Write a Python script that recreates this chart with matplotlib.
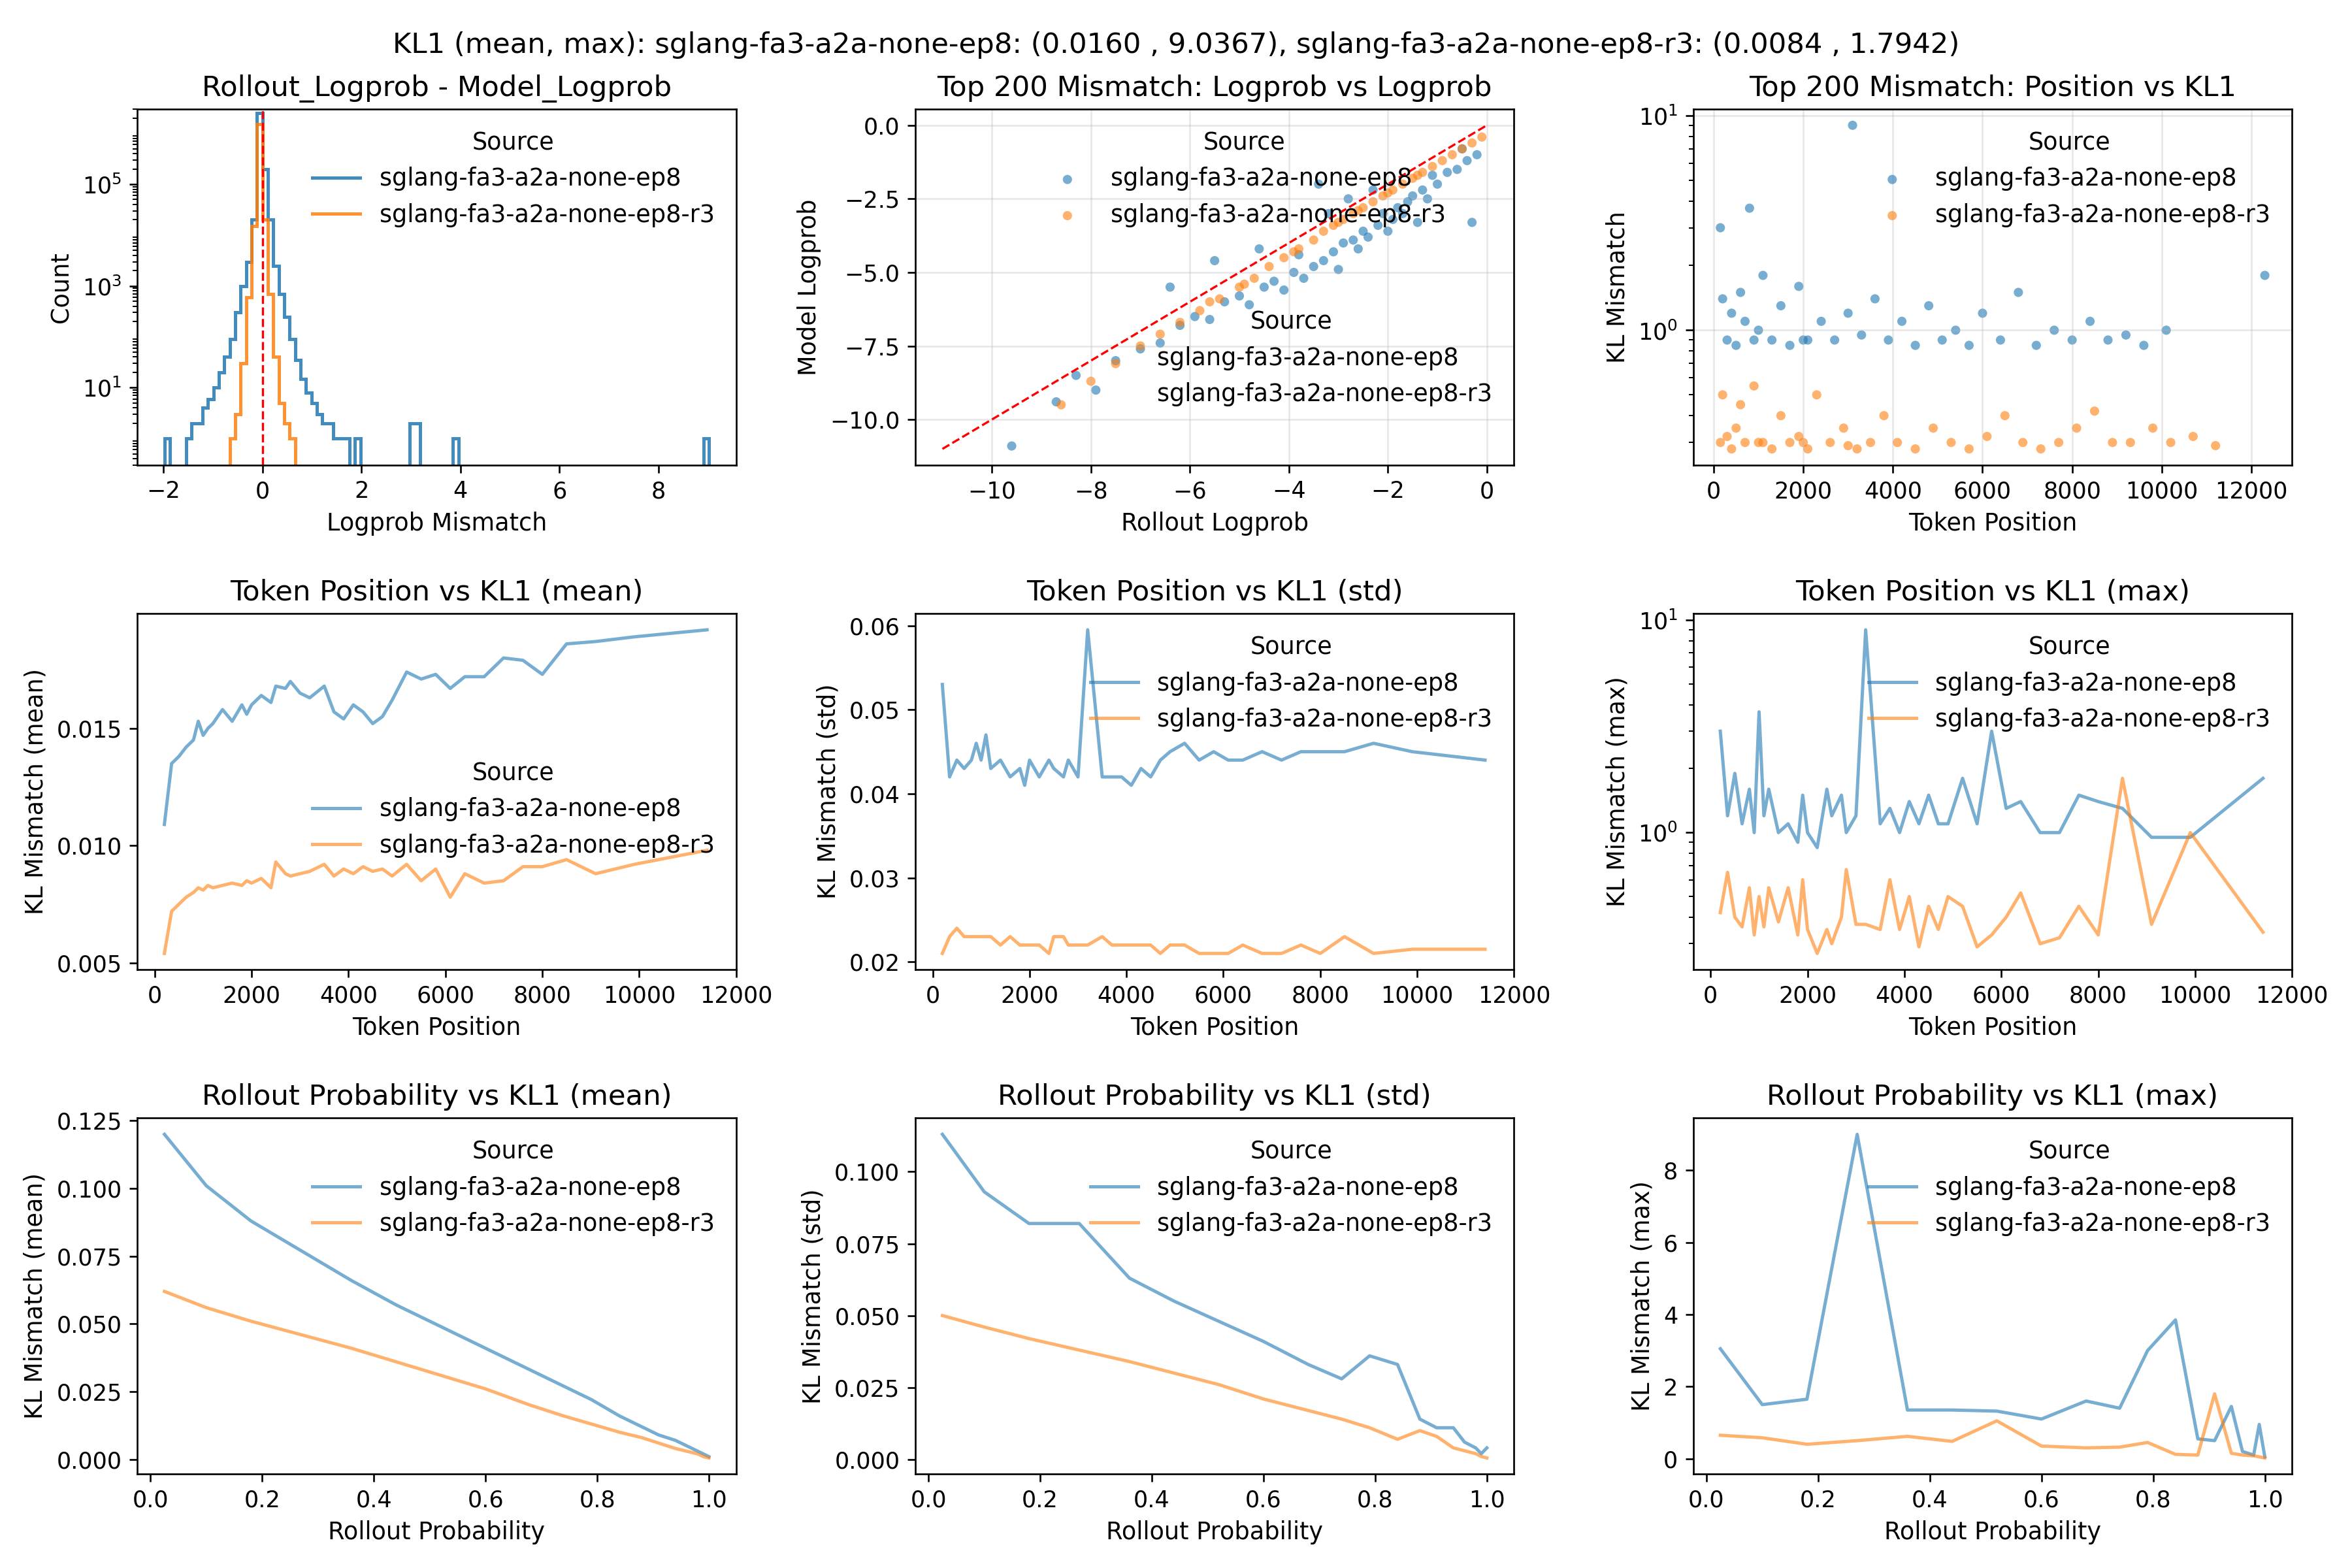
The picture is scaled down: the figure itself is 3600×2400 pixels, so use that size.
import numpy as np
import matplotlib.pyplot as plt
from matplotlib.lines import Line2D
from matplotlib.ticker import MultipleLocator, FormatStrFormatter

A = "sglang-fa3-a2a-none-ep8"
B = "sglang-fa3-a2a-none-ep8-r3"
C1, C2 = "#1f77b4", "#ff7f0e"

# histogram (bin width 0.11)
hist_edges = np.round(np.arange(-1.98, 9.12, 0.11), 3)
blue_counts = np.zeros(len(hist_edges) - 1)
blue_nonzero = {0: 1, 4: 1, 5: 2, 6: 2, 7: 4, 8: 6, 9: 10, 10: 20, 11: 40, 12: 90,
                13: 300, 14: 1000, 15: 3000, 16: 20000, 17: 2.5e6, 18: 2e5, 19: 20000,
                20: 2500, 21: 700, 22: 250, 23: 90, 24: 35, 25: 15, 26: 8, 27: 5,
                28: 3, 29: 2, 30: 2, 31: 1, 32: 1, 33: 1, 35: 1, 45: 2, 46: 2, 53: 1, 99: 1}
for k, v in blue_nonzero.items():
    blue_counts[k] = v
orange_counts = np.zeros(len(hist_edges) - 1)
orange_nonzero = {12: 1, 13: 3, 14: 30, 15: 600, 16: 15000, 17: 1.5e6, 18: 20000,
                  19: 700, 20: 40, 21: 5, 22: 2, 23: 1}
for k, v in orange_nonzero.items():
    orange_counts[k] = v

# scatter logprob vs logprob
sc_blue_x = [-9.6, -8.7, -8.3, -7.9, -7.5, -7.0, -6.6, -6.2, -5.9, -5.6, -5.3, -5.0, -4.8, -4.5,
             -4.3, -4.1, -3.9, -3.7, -3.5, -3.3, -3.1, -3.0, -2.9, -2.7, -2.6, -2.5, -2.4, -2.2,
             -2.1, -2.0, -1.9, -1.8, -1.7, -1.6, -1.5, -1.4, -1.3, -1.2, -1.0, -0.8, -0.6, -0.4,
             -0.3, -0.2, -4.6, -3.8, -3.2, -2.8, -2.3, -1.1, -0.5, -5.5, -6.4, -3.4]
sc_blue_y = [-10.9, -9.4, -8.5, -9.0, -8.0, -7.6, -7.4, -6.8, -6.5, -6.6, -6.0, -5.8, -6.1, -5.5,
             -5.3, -5.6, -5.0, -5.2, -4.8, -4.6, -4.3, -4.9, -4.0, -3.9, -4.2, -3.6, -3.8, -3.4,
             -3.0, -3.6, -3.2, -2.8, -3.0, -2.6, -2.4, -3.3, -2.2, -2.5, -2.0, -1.6, -1.5, -1.2,
             -3.3, -1.0, -4.2, -4.4, -3.0, -2.5, -2.2, -1.7, -0.8, -4.6, -5.5, -2.0]
sc_orange_x = [-8.6, -8.0, -7.5, -7.0, -6.6, -6.2, -5.8, -5.4, -5.0, -4.7, -4.4, -4.1, -3.8, -3.5,
               -3.3, -3.1, -2.9, -2.7, -2.5, -2.3, -2.1, -1.9, -1.7, -1.5, -1.3, -1.1, -0.9,
               -0.7, -0.5, -0.3, -0.1, -5.6, -4.9, -3.9, -3.0, -2.6, -2.0, -1.4]
sc_orange_y = [-9.5, -8.7, -8.1, -7.5, -7.1, -6.7, -6.3, -5.9, -5.5, -5.2, -4.8, -4.5, -4.2, -3.9,
               -3.6, -3.4, -3.2, -3.0, -2.8, -2.6, -2.4, -2.2, -2.0, -1.8, -1.6, -1.4, -1.2,
               -1.0, -0.8, -0.6, -0.4, -6.0, -5.4, -4.3, -3.3, -2.9, -2.3, -1.7]

# KL vs position scatter
kp_blue_x = [150, 200, 300, 400, 500, 700, 800, 900, 1100, 1300, 1500, 1700, 1900, 2100, 2400,
             2700, 3000, 3100, 3300, 3600, 3900, 4200, 4500, 4800, 5100, 5400, 5700, 6000, 6400,
             6800, 7200, 7600, 8000, 8400, 8800, 9200, 9600, 10100, 12300, 1000, 2000, 600]
kp_blue_y = [3.0, 1.4, 0.9, 1.2, 0.85, 1.1, 3.7, 0.9, 1.8, 0.9, 1.3, 0.85, 1.6, 0.9, 1.1, 0.9,
             1.2, 9.0, 0.95, 1.4, 0.9, 1.1, 0.85, 1.3, 0.9, 1.0, 0.85, 1.2, 0.9, 1.5, 0.85, 1.0,
             0.9, 1.1, 0.9, 0.95, 0.85, 1.0, 1.8, 1.0, 0.9, 1.5]
kp_orange_x = [150, 200, 300, 400, 500, 600, 700, 900, 1100, 1300, 1500, 1700, 1900, 2100, 2300,
               2600, 2900, 3200, 3500, 3800, 4100, 4500, 4900, 5300, 5700, 6100, 6500, 6900,
               7300, 7700, 8100, 8500, 8900, 9300, 9800, 10200, 10700, 11200, 1000, 2000, 3000]
kp_orange_y = [0.3, 0.5, 0.32, 0.28, 0.35, 0.45, 0.3, 0.55, 0.3, 0.28, 0.4, 0.3, 0.32, 0.28,
               0.5, 0.3, 0.35, 0.28, 0.3, 0.4, 0.3, 0.28, 0.35, 0.3, 0.28, 0.32, 0.4, 0.3, 0.28,
               0.3, 0.35, 0.42, 0.3, 0.3, 0.35, 0.3, 0.32, 0.29, 0.3, 0.3, 0.29]

# token position curves
pos = [200, 350, 500, 650, 800, 900, 1000, 1100, 1200, 1400, 1600, 1800, 1900, 2000, 2200, 2400,
       2500, 2700, 2800, 3000, 3200, 3500, 3700, 3900, 4100, 4300, 4500, 4700, 4900, 5200, 5500,
       5800, 6100, 6400, 6800, 7200, 7600, 8000, 8500, 9100, 9900, 11400]
pos_mean_a = [0.0109, 0.0135, 0.0138, 0.0142, 0.0145, 0.0153, 0.0147, 0.0150, 0.0152, 0.0158,
              0.0153, 0.0160, 0.0156, 0.0160, 0.0164, 0.0161, 0.0168, 0.0167, 0.0170, 0.0165,
              0.0163, 0.0168, 0.0157, 0.0154, 0.0160, 0.0157, 0.0152, 0.0155, 0.0162, 0.0174,
              0.0171, 0.0173, 0.0167, 0.0172, 0.0172, 0.0180, 0.0179, 0.0173, 0.0186, 0.0187,
              0.0189, 0.0192]
pos_mean_b = [0.0054, 0.0072, 0.0075, 0.0078, 0.0080, 0.0082, 0.0081, 0.0083, 0.0082, 0.0083,
              0.0084, 0.0083, 0.0085, 0.0084, 0.0086, 0.0082, 0.0093, 0.0088, 0.0087, 0.0088,
              0.0089, 0.0092, 0.0087, 0.0090, 0.0088, 0.0091, 0.0089, 0.0090, 0.0087, 0.0092,
              0.0085, 0.0090, 0.0078, 0.0088, 0.0084, 0.0085, 0.0091, 0.0091, 0.0094, 0.0088,
              0.0092, 0.0098]
pos_std_a = [0.053, 0.042, 0.044, 0.043, 0.044, 0.046, 0.044, 0.047, 0.043, 0.044, 0.042, 0.043,
             0.041, 0.044, 0.042, 0.044, 0.043, 0.042, 0.044, 0.042, 0.0595, 0.042, 0.042,
             0.042, 0.041, 0.043, 0.042, 0.044, 0.045, 0.046, 0.044, 0.045, 0.044, 0.044,
             0.045, 0.044, 0.045, 0.045, 0.045, 0.046, 0.045, 0.044]
pos_std_b = [0.021, 0.023, 0.024, 0.023, 0.023, 0.023, 0.023, 0.023, 0.023, 0.022, 0.023, 0.022,
             0.022, 0.022, 0.022, 0.021, 0.023, 0.023, 0.022, 0.022, 0.022, 0.023, 0.022,
             0.022, 0.022, 0.022, 0.022, 0.021, 0.022, 0.022, 0.021, 0.021, 0.021, 0.022,
             0.021, 0.021, 0.022, 0.021, 0.023, 0.021, 0.0215, 0.0215]
pos_max_a = [3.0, 1.2, 1.9, 1.1, 1.6, 1.0, 3.7, 1.2, 1.6, 1.0, 1.1, 0.9, 1.5, 1.0, 0.85, 1.6,
             1.2, 1.5, 1.0, 1.2, 9.0, 1.1, 1.3, 1.0, 1.4, 1.1, 1.5, 1.1, 1.1, 1.8, 1.1, 3.0,
             1.3, 1.4, 1.0, 1.0, 1.5, 1.4, 1.3, 0.95, 0.95, 1.8]
pos_max_b = [0.42, 0.65, 0.4, 0.36, 0.55, 0.33, 0.5, 0.36, 0.55, 0.38, 0.55, 0.33, 0.6, 0.35,
             0.27, 0.35, 0.3, 0.4, 0.67, 0.37, 0.37, 0.35, 0.6, 0.35, 0.5, 0.29, 0.45, 0.35,
             0.5, 0.45, 0.29, 0.33, 0.4, 0.52, 0.3, 0.32, 0.45, 0.33, 1.8, 0.37, 1.0, 0.34]

# rollout probability curves
prob_a = [0.025, 0.1, 0.18, 0.27, 0.36, 0.44, 0.52, 0.6, 0.68, 0.74, 0.79, 0.84, 0.88, 0.91,
          0.94, 0.96, 0.98, 0.99, 1.0]
mean_a = [0.120, 0.101, 0.088, 0.077, 0.066, 0.057, 0.049, 0.041, 0.033, 0.027, 0.022, 0.016,
          0.012, 0.009, 0.007, 0.005, 0.003, 0.002, 0.001]
std_a = [0.113, 0.093, 0.082, 0.082, 0.063, 0.055, 0.048, 0.041, 0.033, 0.028, 0.036, 0.033,
         0.014, 0.011, 0.011, 0.006, 0.004, 0.002, 0.004]
max_a = [3.05, 1.5, 1.65, 9.0, 1.35, 1.35, 1.32, 1.1, 1.6, 1.4, 3.0, 3.85, 0.55, 0.5, 1.45,
         0.2, 0.1, 0.95, 0.05]
mean_b = [0.062, 0.056, 0.051, 0.046, 0.041, 0.036, 0.031, 0.026, 0.020, 0.016, 0.013, 0.010,
          0.008, 0.006, 0.004, 0.003, 0.002, 0.001, 0.0005]
std_b = [0.050, 0.046, 0.042, 0.038, 0.034, 0.030, 0.026, 0.021, 0.017, 0.014, 0.011, 0.007,
         0.010, 0.008, 0.004, 0.003, 0.002, 0.001, 0.0005]
max_b = [0.65, 0.58, 0.4, 0.5, 0.62, 0.48, 1.05, 0.35, 0.3, 0.32, 0.45, 0.12, 0.1, 1.8, 0.15,
         0.1, 0.08, 0.05, 0.02]

fig, axes = plt.subplots(3, 3, figsize=(15, 10), dpi=240)
fig.suptitle("KL1 (mean, max): sglang-fa3-a2a-none-ep8: (0.0160 , 9.0367), "
             "sglang-fa3-a2a-none-ep8-r3: (0.0084 , 1.7942)", fontsize=13)

leg_kw = dict(title="Source", frameon=False, fontsize=11, title_fontsize=11)

ax = axes[0, 0]
ax.stairs(blue_counts, hist_edges, color=C1, lw=1.5, alpha=0.85, label=A)
ax.stairs(orange_counts, hist_edges, color=C2, lw=1.5, alpha=0.85, label=B)
ax.set_yscale("log")
ax.set_ylim(0.3, 3e6)
ax.set_yticks([10, 1000, 1e5])
ax.axvline(0, color="red", ls="--", lw=1)
ax.set_title("Rollout_Logprob - Model_Logprob", fontsize=13)
ax.set_xlabel("Logprob Mismatch", fontsize=11)
ax.set_ylabel("Count", fontsize=11)
ax.legend(loc="upper right", **leg_kw)

ax = axes[0, 1]
ax.scatter(sc_blue_x, sc_blue_y, s=18, alpha=0.6, color=C1, edgecolors="none", label=A)
ax.scatter(sc_orange_x, sc_orange_y, s=18, alpha=0.6, color=C2, edgecolors="none", label=B)
ax.plot([-11, 0], [-11, 0], "r--", lw=1)
ax.yaxis.set_major_locator(MultipleLocator(2.5))
ax.set_title("Top 200 Mismatch: Logprob vs Logprob", fontsize=13)
ax.set_xlabel("Rollout Logprob", fontsize=11)
ax.set_ylabel("Model Logprob", fontsize=11)
ax.grid(alpha=0.3)
blank = [Line2D([], [], alpha=0), Line2D([], [], alpha=0)]
l2 = ax.legend(blank, [A, B], loc="center right", bbox_to_anchor=(1.0, 0.3), **leg_kw)
ax.add_artist(l2)
ax.legend(loc="upper center", bbox_to_anchor=(0.55, 1.0), **leg_kw)

ax = axes[0, 2]
ax.scatter(kp_blue_x, kp_blue_y, s=18, alpha=0.6, color=C1, edgecolors="none", label=A)
ax.scatter(kp_orange_x, kp_orange_y, s=18, alpha=0.6, color=C2, edgecolors="none", label=B)
ax.set_yscale("log")
ax.set_title("Top 200 Mismatch: Position vs KL1", fontsize=13)
ax.set_xlabel("Token Position", fontsize=11)
ax.set_ylabel("KL Mismatch", fontsize=11)
ax.grid(alpha=0.3)
ax.legend(loc="upper right", **leg_kw)

row2 = [(pos_mean_a, pos_mean_b, "mean"), (pos_std_a, pos_std_b, "std"), (pos_max_a, pos_max_b, "max")]
for ax, (ya, yb, stat) in zip(axes[1], row2):
    ax.plot(pos, ya, color=C1, alpha=0.6, lw=1.5, label=A)
    ax.plot(pos, yb, color=C2, alpha=0.6, lw=1.5, label=B)
    ax.set_title(f"Token Position vs KL1 ({stat})", fontsize=13)
    ax.set_xlabel("Token Position", fontsize=11)
    ax.set_ylabel(f"KL Mismatch ({stat})", fontsize=11)
    ax.set_xticks([0, 2000, 4000, 6000, 8000, 10000, 12000])
    if stat == "max":
        ax.set_yscale("log")
    if stat == "mean":
        ax.yaxis.set_major_locator(MultipleLocator(0.005))
        ax.yaxis.set_major_formatter(FormatStrFormatter("%.3f"))
        ax.legend(loc="center right", bbox_to_anchor=(1.0, 0.45), **leg_kw)
    else:
        ax.legend(loc="upper right", **leg_kw)

row3 = [(mean_a, mean_b, "mean"), (std_a, std_b, "std"), (max_a, max_b, "max")]
for ax, (ya, yb, stat) in zip(axes[2], row3):
    ax.plot(prob_a, ya, color=C1, alpha=0.6, lw=1.5, label=A)
    ax.plot(prob_a, yb, color=C2, alpha=0.6, lw=1.5, label=B)
    ax.set_title(f"Rollout Probability vs KL1 ({stat})", fontsize=13)
    ax.set_xlabel("Rollout Probability", fontsize=11)
    ax.set_ylabel(f"KL Mismatch ({stat})", fontsize=11)
    if stat != "max":
        ax.yaxis.set_major_locator(MultipleLocator(0.025))
        ax.yaxis.set_major_formatter(FormatStrFormatter("%.3f"))
    ax.legend(loc="upper right", **leg_kw)

for ax in axes.flat:
    ax.tick_params(labelsize=10.5)

fig.tight_layout(h_pad=2.0, w_pad=2.0)
fig.savefig("out.png")
